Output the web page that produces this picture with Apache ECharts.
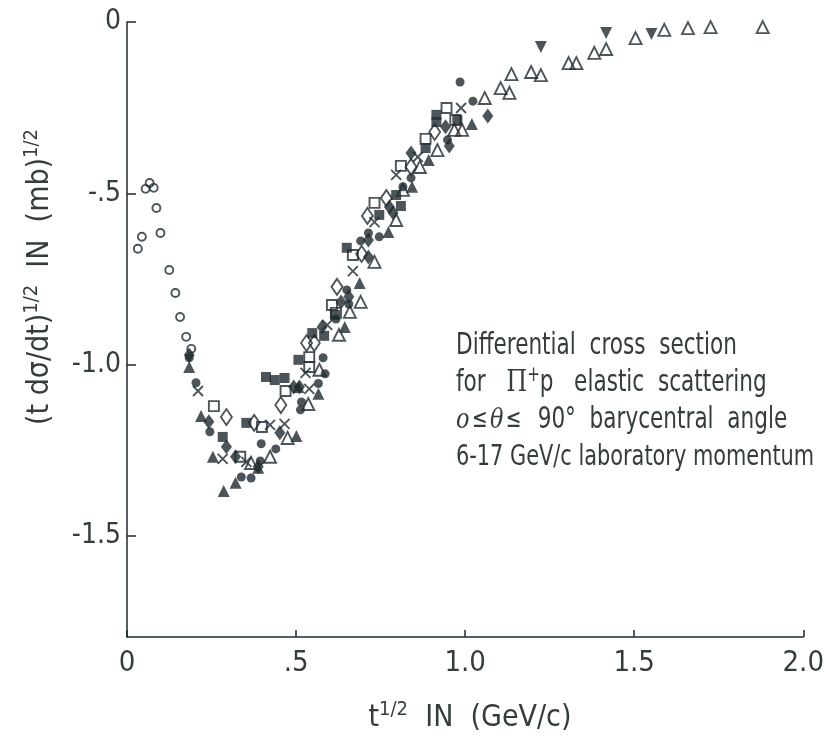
<!DOCTYPE html>
<html>
<head>
<meta charset="utf-8">
<script src="https://cdn.jsdelivr.net/npm/echarts@6/dist/echarts.min.js"></script>
<style>
  html, body { margin: 0; padding: 0; background: #fff; }
  #chart { width: 827px; height: 743px; }
</style>
</head>
<body>
<div id="chart"></div>
<script>
// t^1/2 (GeV/c) , (t dsigma/dt)^1/2 (mb)^1/2
const openCircle = [[0.032,-0.662],[0.044,-0.627],[0.055,-0.487],[0.067,-0.470],[0.079,-0.484],[0.087,-0.543],[0.099,-0.616],[0.125,-0.724],[0.143,-0.791],[0.157,-0.861],[0.175,-0.919],[0.190,-0.954]];
const filledCircle = [[0.184,-0.980],[0.204,-1.053],[0.245,-1.196],[0.397,-1.231],[0.394,-1.281],[0.440,-1.246],[0.338,-1.328],[0.367,-1.331],[0.513,-1.132],[0.516,-1.109],[0.566,-1.055],[0.580,-0.980],[0.586,-1.027],[0.618,-0.867],[0.650,-0.782],[0.656,-0.823],[0.691,-0.639],[0.714,-0.616],[0.746,-0.627],[0.816,-0.481],[0.840,-0.455],[0.948,-0.344],[0.985,-0.175],[1.023,-0.231]];
const filledTriangle = [[0.184,-1.007],[0.219,-1.150],[0.254,-1.269],[0.286,-1.369],[0.321,-1.345],[0.388,-1.301],[0.501,-1.208],[0.507,-1.065],[0.566,-1.085],[0.644,-0.890],[0.688,-0.762],[0.773,-0.613],[0.843,-0.481],[0.892,-0.403],[1.020,-0.298]];
const openTriangle = [[0.367,-1.287],[0.423,-1.269],[0.475,-1.214],[0.536,-1.115],[0.569,-1.015],[0.627,-0.913],[0.659,-0.846],[0.691,-0.817],[0.732,-0.700],[0.796,-0.578],[0.816,-0.490],[0.866,-0.423],[0.918,-0.374],[0.968,-0.315],[0.991,-0.315],[1.058,-0.222],[1.105,-0.193],[1.131,-0.207],[1.137,-0.152],[1.195,-0.146],[1.224,-0.155],[1.306,-0.120],[1.329,-0.120],[1.382,-0.090],[1.417,-0.079],[1.504,-0.047],[1.589,-0.023],[1.659,-0.018],[1.726,-0.015],[1.880,-0.015]];
const downTriangle = [[1.224,-0.073],[1.417,-0.032],[1.551,-0.035]];
const openSquare = [[0.257,-1.121],[0.335,-1.269],[0.399,-1.182],[0.469,-1.077],[0.539,-0.978],[0.539,-1.007],[0.606,-0.826],[0.618,-0.849],[0.668,-0.680],[0.732,-0.528],[0.810,-0.420],[0.883,-0.341],[0.945,-0.251],[0.971,-0.286]];
const filledSquare = [[0.283,-1.211],[0.353,-1.170],[0.411,-1.036],[0.437,-1.045],[0.466,-1.039],[0.507,-0.986],[0.548,-0.908],[0.583,-0.916],[0.615,-0.855],[0.650,-0.659],[0.746,-0.563],[0.796,-0.505],[0.810,-0.537],[0.883,-0.368],[0.915,-0.271],[0.915,-0.292],[0.977,-0.286]];
const openDiamond = [[0.294,-1.153],[0.376,-1.170],[0.455,-1.118],[0.531,-0.937],[0.554,-0.937],[0.621,-0.773],[0.694,-0.677],[0.711,-0.566],[0.767,-0.514],[0.840,-0.423],[0.910,-0.321]];
const filledDiamond = [[0.184,-0.972],[0.242,-1.167],[0.294,-1.240],[0.321,-1.269],[0.388,-1.298],[0.452,-1.199],[0.493,-1.065],[0.510,-1.065],[0.577,-0.890],[0.633,-0.817],[0.656,-0.802],[0.714,-0.636],[0.714,-0.686],[0.776,-0.540],[0.787,-0.557],[0.840,-0.382],[0.942,-0.306],[0.953,-0.362],[1.067,-0.274]];
const cross = [[0.210,-1.077],[0.283,-1.275],[0.353,-1.284],[0.423,-1.176],[0.466,-1.173],[0.539,-1.071],[0.528,-1.024],[0.592,-0.884],[0.668,-0.727],[0.732,-0.584],[0.796,-0.446],[0.860,-0.394],[0.988,-0.251]];

const xTicks = [0, 0.5, 1.0, 1.5, 2.0];
const xTickLabels = ['0', '.5', '1.0', '1.5', '2.0'];
const yTicks = [0, -0.5, -1.0, -1.5];
const yTickLabels = ['0', '-.5', '-1.0', '-1.5'];

const ink = '#1f2a30';
const textInk = '#353c3d';
const font = "'Liberation Sans Narrow', 'DejaVu Sans Condensed', sans-serif";

const chart = echarts.init(document.getElementById('chart'));

function filled(name, data, symbol, size, extra) {
  return Object.assign({
    name, type: 'scatter', data, symbol, symbolSize: size,
    itemStyle: { color: ink },
    emphasis: { disabled: true }
  }, extra || {});
}
function hollow(name, data, symbol, size) {
  return {
    name, type: 'scatter', data, symbol, symbolSize: size,
    itemStyle: { color: 'rgba(0,0,0,0)', borderColor: ink, borderWidth: 1.9 },
    emphasis: { disabled: true }
  };
}

const option = {
  backgroundColor: '#fff',
  animation: false,
  grid: { left: 127, right: 14, top: 22, bottom: 106 },
  xAxis: {
    type: 'value', min: 0, max: 2, interval: 0.5,
    axisLine: { onZero: false, lineStyle: { color: ink, width: 1.5 } },
    axisTick: { inside: true, length: 7, lineStyle: { color: ink, width: 1.5 } },
    axisLabel: {
      margin: 12, color: textInk, fontFamily: font, fontSize: 29,
      formatter: v => xTickLabels[xTicks.indexOf(v)] ?? ''
    },
    splitLine: { show: false }
  },
  yAxis: {
    type: 'value', min: -1.795, max: 0,
    axisLine: { onZero: false, lineStyle: { color: ink, width: 1.5 } },
    axisTick: { inside: true, length: 9, customValues: yTicks, lineStyle: { color: ink, width: 1.5 } },
    axisLabel: {
      margin: 6, color: textInk, fontFamily: font, fontSize: 28,
      customValues: yTicks,
      formatter: v => yTickLabels[yTicks.indexOf(v)] ?? ''
    },
    splitLine: { show: false }
  },
  graphic: [
    {
      type: 'text', x: 40, y: 277, rotation: Math.PI / 2,
      style: {
        text: '(t d\u03c3/dt){sup|1/2}  IN  (mb){sup|1/2}',
        fontFamily: font, fontSize: 30, fill: textInk,
        align: 'center', verticalAlign: 'middle',
        textAlign: 'center', textVerticalAlign: 'middle',
        rich: {
          sup: { fontFamily: font, fontSize: 20, fill: textInk, verticalAlign: 'top', lineHeight: 36 }
        }
      }
    },
    {
      type: 'text', x: 470, y: 718,
      style: {
        text: 't{sup|1/2}  IN  (GeV/c)',
        fontFamily: font, fontSize: 30, fill: textInk,
        align: 'center', verticalAlign: 'middle',
        textAlign: 'center', textVerticalAlign: 'middle',
        rich: {
          sup: { fontFamily: font, fontSize: 20, fill: textInk, verticalAlign: 'top', lineHeight: 36 }
        }
      }
    },
    {
      type: 'text', x: 456, y: 328, scaleX: 0.8,
      style: {
        text: 'Differential  cross  section\n' +
              'for   {pi|\u03a0}{sup|+}p   elastic  scattering\n' +
              '{it|o}{sym|\u2264}{it|\u03b8}{sym|\u2264}  90\u00b0  barycentral  angle\n' +
              '{small|6-17 GeV/c laboratory momentum}',
        fontFamily: font, fontSize: 30, fill: textInk, lineHeight: 37,
        align: 'left', verticalAlign: 'top',
        textAlign: 'left', textVerticalAlign: 'top',
        rich: {
          pi: { fontFamily: "'DejaVu Serif', serif", fontSize: 30, fill: textInk, lineHeight: 37 },
          sup: { fontFamily: font, fontSize: 21, fill: textInk, verticalAlign: 'top', lineHeight: 37 },
          sym: { fontFamily: font, fontSize: 26, fill: textInk, lineHeight: 37, padding: [0, 3, 0, 3] },
          it: { fontFamily: "'DejaVu Serif', serif", fontStyle: 'italic', fontSize: 28, fill: textInk, lineHeight: 37 },
          small: { fontFamily: font, fontSize: 29, fill: textInk, lineHeight: 37 }
        }
      }
    }
  ],
  series: [
    hollow('open circle', openCircle, 'circle', 8),
    filled('filled circle', filledCircle, 'circle', 9),
    filled('filled triangle', filledTriangle, 'triangle', [12, 12]),
    hollow('open triangle', openTriangle, 'triangle', [12, 12]),
    filled('down triangle', downTriangle, 'triangle', [12, 12], { symbolRotate: 180 }),
    hollow('open square', openSquare, 'rect', 10),
    filled('filled square', filledSquare, 'rect', 10),
    hollow('open diamond', openDiamond, 'diamond', [11, 16]),
    filled('filled diamond', filledDiamond, 'diamond', [11, 15]),
    hollow('cross', cross, 'path://M0,0L10,10M10,0L0,10', 10)
  ]
};

chart.setOption(option);
</script>
</body>
</html>
